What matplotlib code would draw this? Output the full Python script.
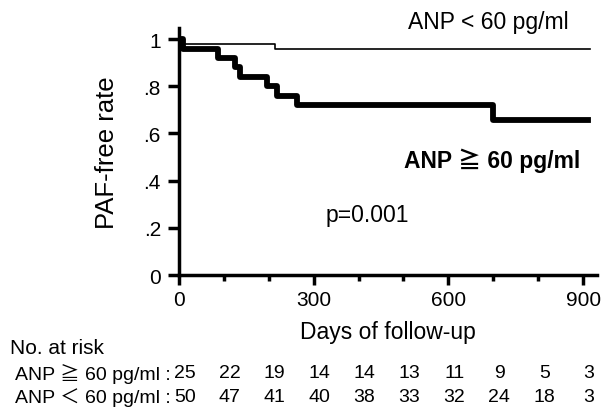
import matplotlib
matplotlib.use("Agg")
import matplotlib.pyplot as plt
import matplotlib.transforms as mtransforms
from matplotlib.ticker import FixedLocator

plt.rcParams['font.family'] = ['Liberation Sans', 'Noto Sans CJK JP', 'DejaVu Sans']

# Kaplan-Meier curves (days, PAF-free rate)
low_days = [0, 8, 214, 915]
low_surv = [1.0, 0.98, 0.96, 0.96]
high_days = [0, 8, 87, 125, 136, 196, 218, 263, 700, 911]
high_surv = [1.0, 0.96, 0.92, 0.88, 0.84, 0.80, 0.76, 0.72, 0.655, 0.655]

# number at risk table
risk_days = [0, 100, 200, 300, 400, 500, 600, 700, 800, 900]
risk_high = [25, 22, 19, 14, 14, 13, 11, 9, 5, 3]
risk_low = [50, 47, 41, 40, 38, 33, 32, 24, 18, 3]

y_ticks = [0, 0.2, 0.4, 0.6, 0.8, 1.0]
y_ticklabels = ['0', '.2', '.4', '.6', '.8', '1']
x_major = [0, 300, 600, 900]
x_minor = [100, 200, 400, 500, 700, 800]

fig = plt.figure(figsize=(6.02, 4.10), dpi=100)
ax = fig.add_axes([179 / 602, 1 - 276 / 410, (597 - 179) / 602, (276 - 29) / 410])

ax.step(low_days, low_surv, where='post', color='black', lw=1.2)
ax.step(high_days, high_surv, where='post', color='black', lw=4.2)

ax.set_xlim(0, 931)
ax.set_ylim(0, 1.047)

for side in ['top', 'right']:
    ax.spines[side].set_visible(False)
for side in ['left', 'bottom']:
    ax.spines[side].set_linewidth(2.5)

ax.set_yticks(y_ticks)
ax.set_yticklabels(y_ticklabels)
ax.set_xticks(x_major)
ax.xaxis.set_minor_locator(FixedLocator(x_minor))
ax.tick_params(axis='y', which='major', length=8, width=2.5, labelsize=15, pad=5)
ax.tick_params(axis='x', which='major', length=7, width=2.5, labelsize=15, pad=4)
ax.tick_params(axis='x', which='minor', length=4.5, width=2.5)

ax.set_ylabel('PAF-free rate', fontsize=18.5, labelpad=18)
ax.set_xlabel('Days of follow-up', fontsize=16.5, labelpad=8)

ax.text(688, 1.047, 'ANP < 60 pg/ml', fontsize=16.5, ha='center', va='baseline')
ax.text(697, 0.458, 'ANP ≧ 60 pg/ml', fontsize=16.5, fontweight='bold', ha='center', va='baseline')
ax.text(419, 0.229, 'p=0.001', fontsize=16.5, ha='center', va='baseline')

# number at risk
fig.text(10 / 602, 1 - 349 / 410, 'No. at risk', fontsize=15, va='center', ha='left')
trans = mtransforms.blended_transform_factory(ax.transData, fig.transFigure)
trans = trans + mtransforms.ScaledTranslation(6 / 100, 0, fig.dpi_scale_trans)
row_y = [1 - 374 / 410, 1 - 398 / 410]
rows = [('ANP ≧ 60 pg/ml :', risk_high), ('ANP ＜ 60 pg/ml :', risk_low)]
for yy, (label, counts) in zip(row_y, rows):
    fig.text(171 / 602, yy, label, fontsize=14, ha='right', va='center')
    for d, c in zip(risk_days, counts):
        ax.text(d, yy, str(c), fontsize=14, ha='center', va='center', transform=trans, clip_on=False)

fig.savefig('out.png', dpi=100)
